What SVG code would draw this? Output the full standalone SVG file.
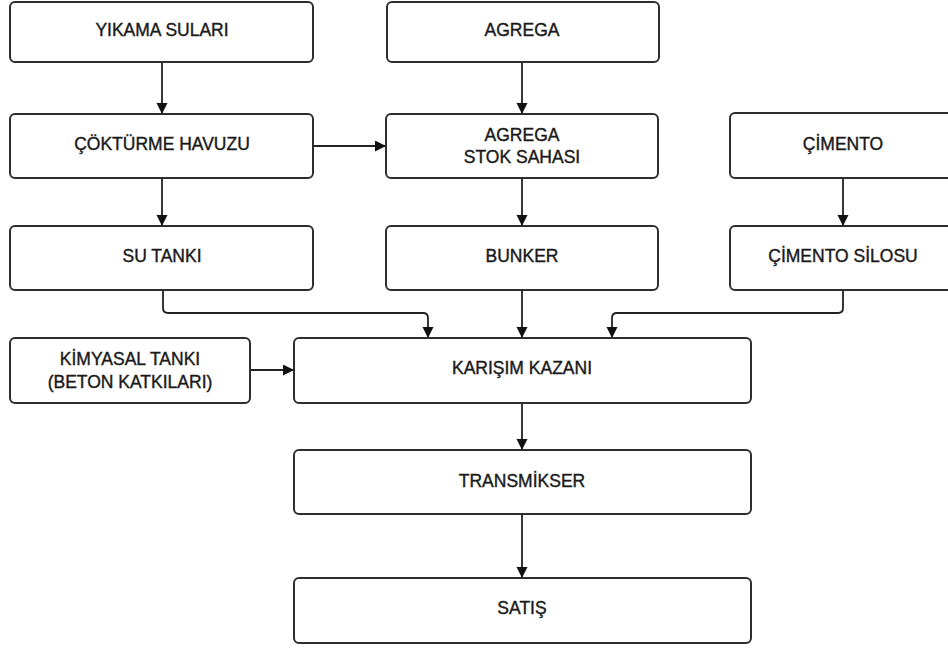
<svg xmlns="http://www.w3.org/2000/svg" width="948" height="648" viewBox="0 0 948 648">
<style>
.box{fill:#ffffff;stroke:#2e2e2e;stroke-width:2}
.t{font-family:"Liberation Sans",Arial,sans-serif;font-size:17.5px;fill:#1a1a1a;stroke:#1a1a1a;stroke-width:0.4;text-anchor:middle}
.c{fill:none;stroke:#222;stroke-width:1.8;marker-end:url(#ah)}
</style>
<defs>
<marker id="ah" markerWidth="13" markerHeight="13" refX="11" refY="5.5" orient="auto" markerUnits="userSpaceOnUse">
<path d="M0,0 L11,5.5 L0,11 Z" fill="#111"/>
</marker>
</defs>
<rect width="948" height="648" fill="#ffffff"/>
<g id="connectors">
<path class="c" d="M162,62 V114"/>
<path class="c" d="M162,178 V226"/>
<path class="c" d="M313,146 H386"/>
<path class="c" d="M522,62 V114"/>
<path class="c" d="M522,178 V226"/>
<path class="c" d="M843,178 V226"/>
<path class="c" d="M163,290 V308 Q163,313 168,313 H423 Q428,313 428,318 V338"/>
<path class="c" d="M522,290 V338"/>
<path class="c" d="M843,290 V308 Q843,313 838,313 H617 Q612,313 612,318 V338"/>
<path class="c" d="M250,370 H294"/>
<path class="c" d="M522,403 V450"/>
<path class="c" d="M522,514 V578"/>
</g>
<g id="yikama"><rect class="box" x="10" y="2" width="303" height="60" rx="5"/><text class="t" x="162" y="36">YIKAMA SULARI</text></g>
<g id="cokturme"><rect class="box" x="10" y="114" width="303" height="64" rx="5"/><text class="t" x="162" y="150">ÇÖKTÜRME HAVUZU</text></g>
<g id="sutanki"><rect class="box" x="10" y="226" width="303" height="64" rx="5"/><text class="t" x="162" y="262">SU TANKI</text></g>
<g id="agrega"><rect class="box" x="387" y="2" width="272" height="60" rx="5"/><text class="t" x="522" y="36">AGREGA</text></g>
<g id="stok"><rect class="box" x="386" y="114" width="272" height="64" rx="5"/><text class="t" x="522" y="141">AGREGA</text><text class="t" x="522" y="163">STOK SAHASI</text></g>
<g id="bunker"><rect class="box" x="386" y="226" width="272" height="64" rx="5"/><text class="t" x="522" y="262">BUNKER</text></g>
<g id="cimento"><rect class="box" x="730" y="113" width="226" height="65" rx="5"/><text class="t" x="843" y="150">ÇİMENTO</text></g>
<g id="silo"><rect class="box" x="730" y="226" width="226" height="64" rx="5"/><text class="t" x="843" y="262">ÇİMENTO SİLOSU</text></g>
<g id="kimyasal"><rect class="box" x="10" y="338" width="240" height="65" rx="5"/><text class="t" x="130" y="365">KİMYASAL TANKI</text><text class="t" x="130" y="388">(BETON KATKILARI)</text></g>
<g id="karisim"><rect class="box" x="294" y="338" width="457" height="65" rx="5"/><text class="t" x="522" y="374">KARIŞIM KAZANI</text></g>
<g id="transmikser"><rect class="box" x="294" y="450" width="457" height="64" rx="5"/><text class="t" x="522" y="487">TRANSMİKSER</text></g>
<g id="satis"><rect class="box" x="294" y="578" width="457" height="65" rx="5"/><text class="t" x="522" y="614">SATIŞ</text></g>
</svg>
